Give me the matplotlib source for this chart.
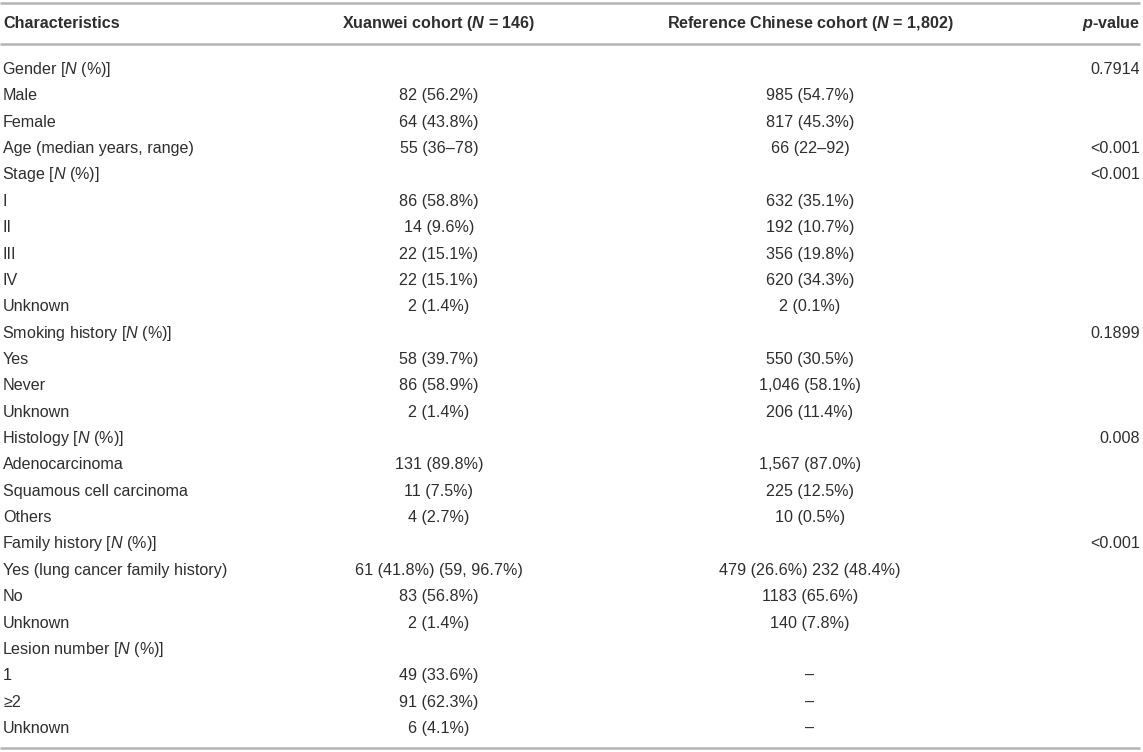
import matplotlib
matplotlib.use("Agg")
import matplotlib.pyplot as plt

plt.rcParams['font.family'] = ['Liberation Sans', 'DejaVu Sans']
plt.rcParams['mathtext.fontset'] = 'custom'
plt.rcParams['mathtext.rm'] = 'Liberation Sans'
plt.rcParams['mathtext.it'] = 'Liberation Sans:italic'
plt.rcParams['mathtext.bf'] = 'Liberation Sans:bold'
plt.rcParams['mathtext.bfit'] = 'Liberation Sans:bold:italic'

# Cabeceras de la tabla
encabezados = ["Characteristics",
               r"Xuanwei cohort ($\mathbfit{N}$ = 146)",
               r"Reference Chinese cohort ($\mathbfit{N}$ = 1,802)",
               r"$\mathbfit{p}$-value"]

caracteristicas = [r"Gender [$\mathit{N}$ (%)]", "Male", "Female",
                   "Age (median years, range)",
                   r"Stage [$\mathit{N}$ (%)]", "I", "II", "III", "IV", "Unknown",
                   r"Smoking history [$\mathit{N}$ (%)]", "Yes", "Never", "Unknown",
                   r"Histology [$\mathit{N}$ (%)]", "Adenocarcinoma",
                   "Squamous cell carcinoma", "Others",
                   r"Family history [$\mathit{N}$ (%)]",
                   "Yes (lung cancer family history)", "No", "Unknown",
                   r"Lesion number [$\mathit{N}$ (%)]", "1", "≥2", "Unknown"]

xuanwei = ["", "82 (56.2%)", "64 (43.8%)", "55 (36–78)",
           "", "86 (58.8%)", "14 (9.6%)", "22 (15.1%)", "22 (15.1%)", "2 (1.4%)",
           "", "58 (39.7%)", "86 (58.9%)", "2 (1.4%)",
           "", "131 (89.8%)", "11 (7.5%)", "4 (2.7%)",
           "", "61 (41.8%) (59, 96.7%)", "83 (56.8%)", "2 (1.4%)",
           "", "49 (33.6%)", "91 (62.3%)", "6 (4.1%)"]

referencia = ["", "985 (54.7%)", "817 (45.3%)", "66 (22–92)",
              "", "632 (35.1%)", "192 (10.7%)", "356 (19.8%)", "620 (34.3%)", "2 (0.1%)",
              "", "550 (30.5%)", "1,046 (58.1%)", "206 (11.4%)",
              "", "1,567 (87.0%)", "225 (12.5%)", "10 (0.5%)",
              "", "479 (26.6%) 232 (48.4%)", "1183 (65.6%)", "140 (7.8%)",
              "", "–", "–", "–"]

p_valores = ["0.7914", "", "", "<0.001",
             "<0.001", "", "", "", "", "",
             "0.1899", "", "", "",
             "0.008", "", "", "",
             "<0.001", "", "", "",
             "", "", "", ""]

W, H = 1143, 752
fig = plt.figure(figsize=(W / 100, H / 100), dpi=100)
ax = fig.add_axes([0, 0, 1, 1])
ax.set_xlim(0, W)
ax.set_ylim(H, 0)
ax.axis('off')

color_texto = '#2e2e2e'
color_linea = '#b4b4b4'
fs = 11.6

# Lineas horizontales
for y in (3, 44, 748):
    ax.plot([0, 1140], [y, y], color=color_linea, lw=1.8, solid_capstyle='butt')

# Columnas
x_car, x_xw, x_ref, x_p = 3, 439, 810, 1140

yh = 28
ax.text(x_car, yh, encabezados[0], ha='left', va='baseline', fontsize=fs,
        fontweight='bold', color=color_texto)
ax.text(x_xw, yh, encabezados[1], ha='center', va='baseline', fontsize=fs,
        fontweight='bold', color=color_texto)
ax.text(x_ref, yh, encabezados[2], ha='center', va='baseline', fontsize=fs,
        fontweight='bold', color=color_texto)
ax.text(x_p, yh, encabezados[3], ha='right', va='baseline', fontsize=fs,
        fontweight='bold', color=color_texto)

y0, paso = 74, 26.36
for i in range(len(caracteristicas)):
    y = y0 + i * paso
    # las etiquetas con mathtext quedan un pixel mas a la derecha
    dx = -1 if '$' in caracteristicas[i] else 0
    ax.text(x_car + dx, y, caracteristicas[i], ha='left', va='baseline',
            fontsize=fs, color=color_texto)
    ax.text(x_xw, y, xuanwei[i], ha='center', va='baseline',
            fontsize=fs, color=color_texto)
    ax.text(x_ref, y, referencia[i], ha='center', va='baseline',
            fontsize=fs, color=color_texto)
    ax.text(x_p, y, p_valores[i], ha='right', va='baseline',
            fontsize=fs, color=color_texto)

fig.savefig('out.png', dpi=100)
